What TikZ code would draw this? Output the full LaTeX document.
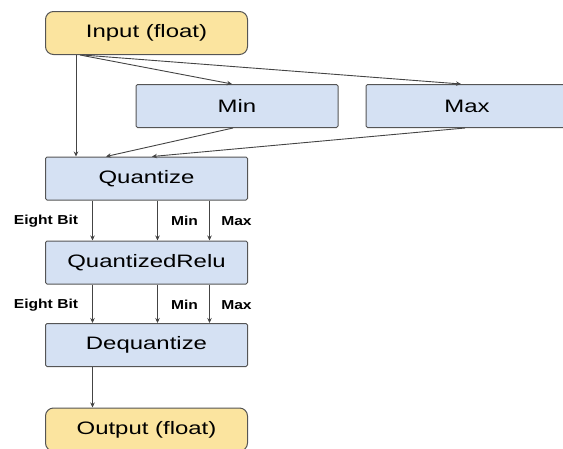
\documentclass[tikz,border=0pt]{standalone}
\usepackage{fontspec}
\setmainfont[FakeStretch=1.33]{Liberation Sans}
\newfontfamily\portfont[FakeStretch=1.2]{Liberation Sans}
\usetikzlibrary{arrows.meta}
\definecolor{ioyellow}{HTML}{FBE49F}
\definecolor{opblue}{HTML}{D5E1F3}
\definecolor{edgegray}{HTML}{555555}
\definecolor{wiregray}{HTML}{444444}
\tikzset{
  opbox/.style={draw=edgegray, fill=opblue, line width=1pt, rounded corners=1.5pt,
    minimum width=202pt, minimum height=43pt, inner sep=0pt,
    font=\fontsize{18}{20}\selectfont},
  iobox/.style={opbox, fill=ioyellow, rounded corners=8pt},
  wire/.style={draw=wiregray, line width=0.9pt, -{Stealth[length=5pt,width=4.5pt]}},
  portlabel/.style={font=\portfont\bfseries\fontsize{13}{15}\selectfont, inner sep=0pt}
}
\begin{document}
\begin{tikzpicture}[x=1pt, y=-1pt]
\useasboundingbox (0,0) rectangle (563,448);
\clip (0,0) rectangle (563,448);

% operation boxes
\node[iobox] (in)  at (146.5,33)    {Input (float)};
\node[opbox] (mn)  at (237,106)     {Min};
\node[opbox] (mx)  at (467,106)     {Max};
\node[opbox] (q)   at (146.5,178.5) {Quantize};
\node[opbox] (qr)  at (146.5,262.5) {QuantizedRelu};
\node[opbox] (dq)  at (146.5,345)   {Dequantize};
\node[iobox] (out) at (146.5,429.5) {Output (float)};

% input fan-out
\draw[wire] ([xshift=-70.5pt]in.south) -- ([xshift=-70.5pt]q.north);
\draw[wire] ([xshift=-66.5pt]in.south) -- ([xshift=-5pt]mn.north);
\draw[wire] ([xshift=-64pt]in.south) -- ([xshift=-6pt]mx.north);
\draw[wire] ([xshift=-4pt]mn.south) -- ([xshift=-40.5pt]q.north);
\draw[wire] ([xshift=-2pt]mx.south) -- ([xshift=5.5pt]q.north);

% quantized tensor and range
\foreach \dx in {-54,11,63} {
  \draw[wire] ([xshift=\dx pt]q.south) -- ([xshift=\dx pt]qr.north);
  \draw[wire] ([xshift=\dx pt]qr.south) -- ([xshift=\dx pt]dq.north);
}
\draw[wire] ([xshift=-54pt]dq.south) -- ([xshift=-54pt]out.north);

% port labels
\node[portlabel] (l1a) at (46,221)    {Eight Bit};
\node[portlabel] (l1b) at (184.5,221) {Min};
\node[portlabel] (l1c) at (236.5,221) {Max};
\node[portlabel] (l2a) at (46,305)    {Eight Bit};
\node[portlabel] (l2b) at (184.5,305) {Min};
\node[portlabel] (l2c) at (236.5,305) {Max};
\end{tikzpicture}
\end{document}
